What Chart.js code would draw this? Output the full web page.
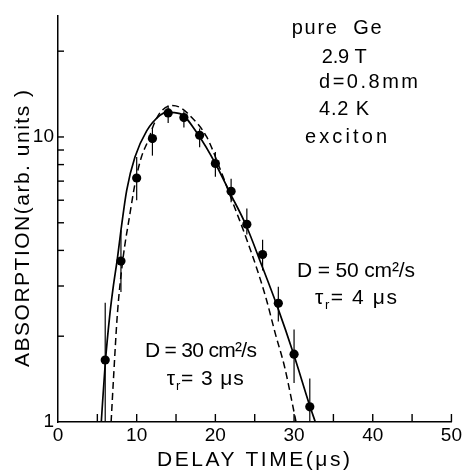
<!DOCTYPE html>
<html><head><meta charset="utf-8">
<script src="https://cdn.jsdelivr.net/npm/chart.js@4/dist/chart.umd.min.js"></script>
<style>html,body{margin:0;padding:0;background:#fff;}#wrap{width:464px;height:470px;position:relative;}</style>
</head><body><div id="wrap"><canvas id="c" width="464" height="470"></canvas></div>
<script>
// measured points (delay time in µs, absorption in arb. units) with error bar ends
const delayTimes = [6, 8, 10, 12, 14, 16, 18, 20, 22, 24, 26, 28, 30, 32];
const absorption = [1.65, 3.67, 7.18, 9.87, 12.14, 11.7, 10.14, 8.07, 6.45, 4.94, 3.87, 2.61, 1.73, 1.13];
const errLow  = [1.0, 2.86, 6.0, 8.6, 11.2, 10.8, 9.2, 7.25, 5.9, 4.55, 3.4, 2.25, 1.37, 1.0];
const errHigh = [2.62, 4.7, 8.5, 10.8, 12.9, 12.3, 10.7, 8.85, 7.14, 5.61, 4.36, 2.98, 2.11, 1.42];
// solid fit: D = 50 cm²/s, tau_r = 4 µs
const fitD50X = [5.5, 6.0, 6.6, 7.0, 7.55, 8.0, 8.73, 9.78, 11.27, 12.95, 13.8, 15.5, 17.9, 20.0, 21.9, 23.9, 25.8, 27.9, 29.95, 32.0, 32.7];
const fitD50Y = [1.0, 1.6, 2.4, 2.95, 3.75, 4.7, 6.5, 8.5, 10.5, 11.9, 12.2, 12.08, 10.1, 8.07, 6.33, 4.9, 3.6, 2.53, 1.73, 1.14, 1.0];
// dashed fit: D = 30 cm²/s, tau_r = 3 µs
const fitD30X = [6.75, 7.04, 7.55, 8.22, 9.15, 9.87, 10.6, 11.47, 12.2, 13.0, 14.5, 15.5, 16.75, 18.9, 20.5, 22.1, 23.7, 25.2, 26.5, 27.6, 28.8, 29.7, 30.25];
const fitD30Y = [1.0, 1.4, 2.4, 3.67, 5.39, 7.05, 8.5, 9.74, 11.1, 12.2, 12.9, 12.7, 11.9, 10.0, 7.85, 6.0, 4.59, 3.5, 2.68, 2.05, 1.56, 1.19, 1.0];
// axes
const xTickMarks = [5, 10, 15, 20, 25, 30, 35, 40, 45, 50];
const xTickLabels = ['0', '10', '20', '30', '40', '50'];
const yTickMarks = [2, 3, 4, 5, 6, 7, 8, 9, 10, 20];
const yTickLabels = ['1', '10'];
const xTitle = 'DELAY TIME(\u03bcs)';
const yTitle = 'ABSORPTION(arb. units )';
const infoLines = ['pure  Ge', '2.9 T', 'd=0.8mm', '4.2 K', 'exciton'];
const label50 = ['D = 50 cm\u00b2/s', '4 \u03bcs'];
const label30 = ['D = 30 cm\u00b2/s', '3 \u03bcs'];

const FONT = "'Liberation Sans', Arial, sans-serif";

function drawFitted(ctx, segs, x, y, w, size) {
  ctx.save();
  ctx.letterSpacing = '0px';
  let total = 0, n = 0;
  segs.forEach(s => {
    ctx.font = (s.sub ? size * 0.62 : size) + 'px ' + FONT;
    s.w0 = ctx.measureText(s.t).width;
    total += s.w0; n += [...s.t].length;
  });
  const ls = n > 1 ? (w - total) / (n - 1) : 0;
  let cx = x;
  ctx.textAlign = 'left'; ctx.textBaseline = 'alphabetic'; ctx.fillStyle = '#000';
  segs.forEach(s => {
    ctx.font = (s.sub ? size * 0.62 : size) + 'px ' + FONT;
    ctx.letterSpacing = ls + 'px';
    ctx.fillText(s.t, cx, y + (s.sub ? size * 0.22 : 0));
    cx += s.w0 + [...s.t].length * ls;
  });
  ctx.restore();
}

const inkPlugin = {
  id: 'ink',
  afterDatasetsDraw(chart) {
    const ctx = chart.ctx, xs = chart.scales.x, ys = chart.scales.y;
    ctx.save();
    ctx.strokeStyle = '#000'; ctx.lineWidth = 1.2;
    delayTimes.forEach((t, i) => {
      const px = xs.getPixelForValue(t);
      ctx.beginPath();
      ctx.moveTo(px, ys.getPixelForValue(errLow[i]));
      ctx.lineTo(px, ys.getPixelForValue(errHigh[i]));
      ctx.stroke();
    });
    // inward tick marks
    ctx.lineWidth = 1.4;
    const yb = ys.getPixelForValue(1), xl = xs.getPixelForValue(0);
    xTickMarks.forEach(v => {
      const px = xs.getPixelForValue(v);
      ctx.beginPath(); ctx.moveTo(px, yb); ctx.lineTo(px, yb - 8); ctx.stroke();
    });
    yTickMarks.forEach(v => {
      const py = ys.getPixelForValue(v);
      ctx.beginPath(); ctx.moveTo(xl, py); ctx.lineTo(xl + 6, py); ctx.stroke();
    });
    ctx.restore();
  },
  afterDraw(chart) {
    const ctx = chart.ctx;
    // axis titles
    drawFitted(ctx, [{t: xTitle}], 157, 466, 193, 21);
    ctx.save();
    ctx.translate(28.5, 367); ctx.rotate(-Math.PI / 2);
    drawFitted(ctx, [{t: yTitle}], 0, 0, 277, 21);
    ctx.restore();
    // info block
    const info = [[291.7, 33.5, 90], [321.7, 63, 45], [319, 87.5, 99], [319, 115, 50], [305, 142.5, 82]];
    infoLines.forEach((s, i) => drawFitted(ctx, [{t: s}], info[i][0], info[i][1], info[i][2], 20));
    // fit labels
    drawFitted(ctx, [{t: label50[0]}], 297, 276.5, 118, 21);
    drawFitted(ctx, [{t: '\u03c4'}, {t: 'r', sub: true}, {t: '= ' + label50[1]}], 315, 304, 82, 21);
    drawFitted(ctx, [{t: label30[0]}], 145, 357, 112, 21);
    drawFitted(ctx, [{t: '\u03c4'}, {t: 'r', sub: true}, {t: '= ' + label30[1]}], 166.7, 385, 77, 21);
  }
};

new Chart(document.getElementById('c'), {
  type: 'scatter',
  data: {
    datasets: [
      { label: 'D=50', data: fitD50X.map((x, i) => ({x, y: fitD50Y[i]})), showLine: true,
        borderColor: '#000', borderWidth: 1.7, pointRadius: 0, cubicInterpolationMode: 'monotone', fill: false },
      { label: 'D=30', data: fitD30X.map((x, i) => ({x, y: fitD30Y[i]})), showLine: true,
        borderColor: '#000', borderWidth: 1.5, borderDash: [7, 4], pointRadius: 0, cubicInterpolationMode: 'monotone', fill: false },
      { label: 'data', data: delayTimes.map((x, i) => ({x, y: absorption[i]})), showLine: false,
        pointRadius: 4.6, pointBackgroundColor: '#000', pointBorderColor: '#000', pointBorderWidth: 0 }
    ]
  },
  options: {
    responsive: false, animation: false, devicePixelRatio: 1,
    layout: { padding: { top: 15, right: 12, left: 0, bottom: 0 } },
    plugins: { legend: { display: false }, tooltip: { enabled: false } },
    scales: {
      x: {
        type: 'linear', min: 0, max: 50,
        afterFit(s) { s.height = 48; },
        grid: { display: false, drawTicks: false },
        border: { display: true, color: '#000', width: 1.5 },
        ticks: { stepSize: 10, color: '#000', padding: 2, maxRotation: 0, autoSkip: false,
          font: { family: FONT, size: 19 },
          callback: (v) => xTickLabels.includes(String(v)) ? String(v) : '' }
      },
      y: {
        type: 'logarithmic', min: 1, max: 26.7,
        afterFit(s) { s.width = 58; },
        grid: { display: false, drawTicks: false },
        border: { display: true, color: '#000', width: 1.5 },
        ticks: { color: '#000', padding: 4, autoSkip: false,
          font: { family: FONT, size: 19 },
          callback: (v) => yTickLabels.includes(String(v)) ? String(v) : '' }
      }
    }
  },
  plugins: [inkPlugin]
});
</script>
</body></html>
